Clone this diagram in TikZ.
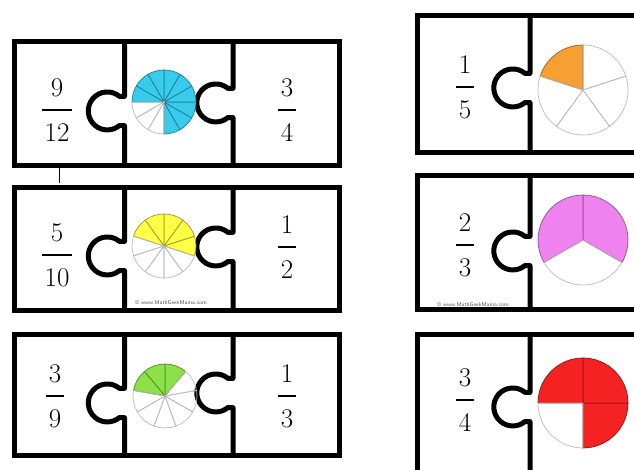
\documentclass[tikz,border=0pt]{standalone}
\usepackage{amsmath,amssymb}
\usepackage{array}
\usepackage{tikz}

\definecolor{fracblue}{HTML}{38CCEC}
\definecolor{fracyellow}{HTML}{FFFF45}
\definecolor{fracgreen}{HTML}{8CE048}
\definecolor{fracorange}{HTML}{F6A034}
\definecolor{fracpink}{HTML}{EE82EE}
\definecolor{fracred}{HTML}{F42222}

% numerator over a bar over denominator
\newcommand{\stackfrac}[2]{{\renewcommand{\arraystretch}{1.35}%
  \setlength{\arrayrulewidth}{1.9pt}\setlength{\tabcolsep}{2.5pt}%
  \begin{tabular}{c}#1\\\hline#2\end{tabular}}}

% pie: slices, filled slices, start angle, colour, radius
\newcommand{\fracpie}[5]{%
  \foreach \i in {1,...,#1}{%
    \pgfmathsetmacro{\angA}{#3+(\i-1)*360/#1}%
    \pgfmathsetmacro{\angB}{#3+\i*360/#1}%
    \ifnum\i>#2\relax
      \draw[slice] (0,0) -- (\angA:#5) arc[start angle=\angA,end angle=\angB,radius=#5] -- cycle;
    \else
      \draw[slice,fill=#4,draw=#4!60!black] (0,0) -- (\angA:#5) arc[start angle=\angA,end angle=\angB,radius=#5] -- cycle;
    \fi
  }}

% cut line: x, top, bottom, knob centre
\newcommand{\divline}[4]{%
  \draw[cut] (#1,#2) -- (#1,#4+14.6) -- (#1-5,#4+14.6)
    arc[start angle=50,end angle=310,radius=19] -- (#1,#4-14.6) -- (#1,#3);}

\begin{document}
\begin{tikzpicture}[x=1pt,y=1pt,
    cut/.style={line width=5pt,line join=round},
    frame/.style={line width=5pt,line join=miter},
    slice/.style={draw=gray!55,line width=0.7pt},
    frac/.style={font=\fontsize{27}{32}\selectfont,inner sep=0pt},
    stamp/.style={font=\fontsize{5.5}{6}\selectfont\sffamily,text=gray!60!black,inner sep=0pt}]
  \useasboundingbox (0,0) rectangle (634,470);
  \clip (0,0) rectangle (634,470);

  % 9/12 -- 3/4
  \draw[frame] (14.5,304) rectangle (339,428);
  \divline{124.5}{428}{304}{359}
  \divline{233}{428}{304}{367}
  \begin{scope}[shift={(164,368)}]
    \fracpie{12}{9}{-90}{fracblue}{32}
  \end{scope}
  \node[frac] (twelfths) at (57,360) {\stackfrac{9}{12}};
  \node[frac] (quarters) at (287,360) {\stackfrac{3}{4}};
  \draw[line width=1pt] (59,302) -- (59,287);

  % 5/10 -- 1/2
  \draw[frame] (14.5,159) rectangle (339,282);
  \divline{124.5}{282}{159}{214}
  \divline{233}{282}{159}{223}
  \begin{scope}[shift={(164,224)}]
    \fracpie{10}{5}{-18}{fracyellow}{32}
  \end{scope}
  \node[frac] (tenths) at (57,215) {\stackfrac{5}{10}};
  \node[frac] (halves) at (287,223) {\stackfrac{1}{2}};
  \node[stamp] (stampa) at (171,167) {\textcopyright{} www.MathGeekMama.com};

  % 3/9 -- 1/3
  \draw[frame] (14.5,14) rectangle (339,135.5);
  \divline{124.5}{135.5}{14}{67}
  \divline{233}{135.5}{14}{77}
  \begin{scope}[shift={(165,74)}]
    \fracpie{9}{3}{50}{fracgreen}{32}
  \end{scope}
  \node[frac] (ninths) at (55,74) {\stackfrac{3}{9}};
  \node[frac] (thirds) at (287,74) {\stackfrac{1}{3}};

  % 1/5
  \draw[frame] (417,317) rectangle (660,454);
  \divline{530}{454}{317}{382}
  \begin{scope}[shift={(583,380)}]
    \fracpie{5}{1}{90}{fracorange}{45}
  \end{scope}
  \node[frac] (fifth) at (465,383) {\stackfrac{1}{5}};

  % 2/3
  \draw[frame] (417,160) rectangle (660,294);
  \divline{530}{294}{160}{219}
  \begin{scope}[shift={(583,230)}]
    \fracpie{3}{2}{-30}{fracpink}{45}
  \end{scope}
  \node[frac] (twothirds) at (465,225) {\stackfrac{2}{3}};
  \node[stamp] (stampb) at (473,165) {\textcopyright{} www.MathGeekMama.com};

  % 3/4
  \draw[frame] (417,-20) rectangle (660,135);
  \divline{530}{135}{-20}{63}
  \begin{scope}[shift={(583,67)}]
    \fracpie{4}{3}{-90}{fracred}{45}
  \end{scope}
  \node[frac] (threequarters) at (465,70) {\stackfrac{3}{4}};
\end{tikzpicture}
\end{document}
